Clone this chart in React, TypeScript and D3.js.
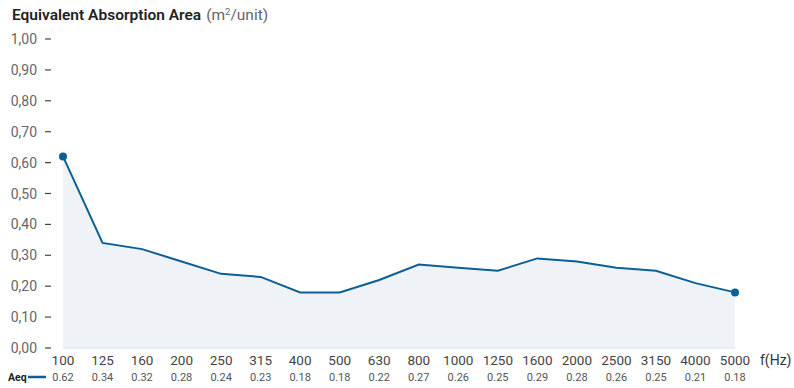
import React from 'react';
import * as d3 from 'd3';

const frequencies = ['100', '125', '160', '200', '250', '315', '400', '500', '630', '800', '1000', '1250', '1600', '2000', '2500', '3150', '4000', '5000'];
const aeqValues = [0.62, 0.34, 0.32, 0.28, 0.24, 0.23, 0.18, 0.18, 0.22, 0.27, 0.26, 0.25, 0.29, 0.28, 0.26, 0.25, 0.21, 0.18];
const yTicks = [0, 0.1, 0.2, 0.3, 0.4, 0.5, 0.6, 0.7, 0.8, 0.9, 1.0];

const App: React.FC = () => {
  const width = 794;
  const height = 388;

  const x = d3.scalePoint<string>().domain(frequencies).range([63, 735]);
  const y = d3.scaleLinear().domain([0, 1]).range([348, 39]);

  const pts = frequencies.map((f, i) => ({ f, v: aeqValues[i] }));

  const line = d3.line<{ f: string; v: number }>()
    .x(d => x(d.f) || 0)
    .y(d => y(d.v));

  const area = d3.area<{ f: string; v: number }>()
    .x(d => x(d.f) || 0)
    .y0(y(0))
    .y1(d => y(d.v));

  const blue = '#0b5f96';
  const font = 'Roboto, sans-serif';

  return (
    <svg
      width={width}
      height={height}
      style={{ position: 'fixed', left: 0, top: 0, fontFamily: font }}
    >
      <rect width={width} height={height} fill="#fff" />

      {/* Title */}
      <text x={12} y={20} fontSize={15.5} fill="#222">
        <tspan fontWeight={600}>Equivalent Absorption Area</tspan>
        <tspan fill="#666" dx={5}>(m</tspan>
        <tspan fill="#666" fontSize={9.5} dy={-5}>2</tspan>
        <tspan fill="#666" dy={5}>/unit)</tspan>
      </text>

      {/* Y axis labels */}
      {yTicks.map(t => (
        <g key={t}>
          <text x={37} y={y(t) + 5} textAnchor="end" fontSize={14} fill="#666">
            {d3.format('.2f')(t).replace('.', ',')}
          </text>
          <line x1={45} x2={51} y1={y(t)} y2={y(t)} stroke="#444" strokeWidth={1.2} />
        </g>
      ))}

      {/* Area + line */}
      <path d={area(pts) || undefined} fill="#eff3f7" />
      <line x1={x('100')} x2={x('5000')} y1={y(0)} y2={y(0)} stroke="#d8e2ec" strokeWidth={1} />
      <path d={line(pts) || undefined} fill="none" stroke={blue} strokeWidth={2} />
      <circle cx={x('100')} cy={y(aeqValues[0])} r={4} fill={blue} />
      <circle cx={x('5000')} cy={y(aeqValues[aeqValues.length - 1])} r={4} fill={blue} />

      {/* X labels */}
      {pts.map(d => (
        <g key={d.f}>
          <text x={x(d.f)} y={365} textAnchor="middle" fontSize={13.5} fill="#444">{d.f}</text>
          <text x={x(d.f)} y={381} textAnchor="middle" fontSize={11} fill="#555">{d3.format('.2f')(d.v)}</text>
        </g>
      ))}
      <text x={760} y={365} fontSize={14} fill="#333">f(Hz)</text>

      {/* Legend */}
      <text x={8} y={381} fontSize={10.5} fontWeight={700} fill="#222">Aeq</text>
      <line x1={28} x2={46} y1={377} y2={377} stroke={blue} strokeWidth={2.5} />
    </svg>
  );
};

export default App;
